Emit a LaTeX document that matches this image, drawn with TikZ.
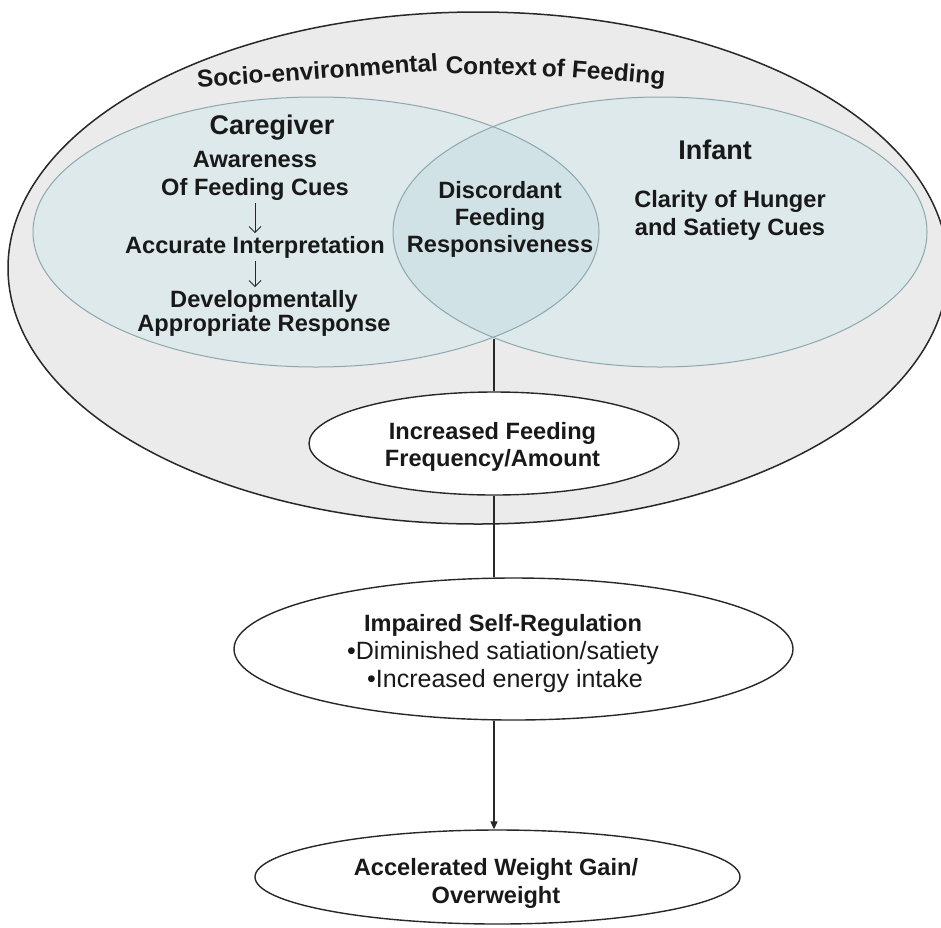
\documentclass[tikz,border=0pt]{standalone}
\usepackage{fontspec}
\setmainfont{Liberation Sans}
\usetikzlibrary{shapes.geometric,arrows.meta}
\definecolor{outerfill}{RGB}{235,235,235}
\definecolor{innerfill}{RGB}{221,233,235}
\definecolor{lensfill}{RGB}{209,226,230}
\definecolor{innerline}{RGB}{140,168,172}
\definecolor{darkline}{RGB}{40,40,40}
\definecolor{txt}{RGB}{25,25,25}
\begin{document}
\begin{tikzpicture}[x=1pt,y=-1pt,
  lbl/.style={anchor=base, inner sep=0pt, font=\bfseries\fontsize{23.6}{28}\selectfont, text=txt},
  head/.style={anchor=base, inner sep=0pt, font=\bfseries\fontsize{27}{32}\selectfont, text=txt},
  titleword/.style={anchor=base, inner sep=0pt, font=\bfseries\fontsize{24.4}{28}\selectfont, text=txt},
  plain/.style={anchor=base, inner sep=0pt, font=\fontsize{25}{30}\selectfont, text=txt},
  oval/.style={ellipse, draw=darkline, line width=1.4pt, fill=white, inner sep=0pt},
  conn/.style={draw=darkline, line width=1.2pt},
  smallarrow/.style={draw=darkline, line width=1pt, -{Straight Barb[length=6pt,width=12pt]}, shorten <=2pt, shorten >=3pt},
  ]
\useasboundingbox (0,0) rectangle (941,927);
\fill[white] (0,0) rectangle (941,927);
% outer context ellipse
\filldraw[fill=outerfill, draw=darkline, line width=1.5pt] (478,268) ellipse [x radius=470pt, y radius=256pt];
% Venn ellipses
\fill[innerfill] (316,232) ellipse [x radius=283pt, y radius=135pt];
\fill[innerfill] (660,232) ellipse [x radius=267pt, y radius=135pt];
\begin{scope}
  \clip (316,232) ellipse [x radius=283pt, y radius=135pt];
  \fill[lensfill] (660,232) ellipse [x radius=267pt, y radius=135pt];
\end{scope}
\draw[innerline, line width=1pt] (316,232) ellipse [x radius=283pt, y radius=135pt];
\draw[innerline, line width=1pt] (660,232) ellipse [x radius=267pt, y radius=135pt];
% title along a gentle arc (word by word)
\node[titleword, rotate=4.0] (t1) at (318,79.1) {Socio-environmental};
\node[titleword, rotate=-1.0] (t2) at (491,74.7) {Context};
\node[titleword, rotate=-2.9] (t3) at (553,76.7) {of};
\node[titleword, rotate=-4.7] (t4) at (618,81.0) {Feeding};
% Caregiver
\node[head] (cg) at (272,134) {Caregiver};
\node[lbl] (aw1) at (255,167.5) {Awareness};
\node[lbl] (aw2) at (255,195.5) {Of Feeding Cues};
\node[lbl] (acc) at (255,253.5) {Accurate Interpretation};
\node[lbl] (dev1) at (264,307.5) {Developmentally};
\node[lbl] (dev2) at (264,331) {Appropriate Response};
\draw[smallarrow] (aw2.south) -- (acc.north);
\draw[smallarrow] (acc.south) -- (acc.south |- dev1.north);
% Discordant
\node[lbl] (dis1) at (500,198.5) {Discordant};
\node[lbl] (dis2) at (500,225.5) {Feeding};
\node[lbl] (dis3) at (500,252.5) {Responsiveness};
% Infant
\node[head] (inf) at (715,159.5) {Infant};
\node[lbl] (cl1) at (730,207.5) {Clarity of Hunger};
\node[lbl] (cl2) at (730,235.5) {and Satiety Cues};
% lower chain
\coordinate (lensbot) at (494,339);
\node[oval, minimum width=370pt, minimum height=103pt] (incr) at (494,443.5) {};
\node[oval, minimum width=559pt, minimum height=142pt] (imp) at (513.5,649) {};
\node[oval, minimum width=485pt, minimum height=94pt] (accel) at (497.5,877) {};
\draw[conn] (lensbot) -- (incr.north);
\draw[conn] (incr.south) -- (incr.south |- imp.north);
\draw[conn, -{Triangle[length=8pt,width=7pt]}] (imp.south -| lensbot) -- (accel.north -| lensbot);
\node[lbl] (in1) at (492.5,439) {Increased Feeding};
\node[lbl] (in2) at (492.5,466.5) {Frequency/Amount};
\node[lbl] (im1) at (503,631) {Impaired Self-Regulation};
\node[plain] (im2) at (503,659) {•Diminished satiation/satiety};
\node[plain] (im3) at (505,687) {•Increased energy intake};
\node[lbl] (ac1) at (496,875) {Accelerated Weight Gain/};
\node[lbl] (ac2) at (496,903) {Overweight};
\end{tikzpicture}
\end{document}
